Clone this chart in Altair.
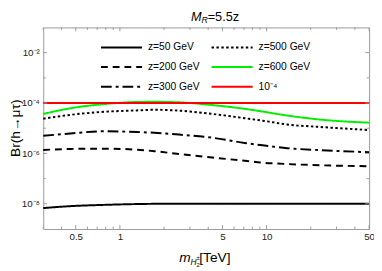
import altair as alt
import pandas as pd

# ---- data ----
x_vals = [0.3, 0.46, 0.78, 1.3, 1.72, 2.53, 4.27, 7.1, 9.4, 13.8, 23.4, 50]
br_z50 = [6.8e-9, 8.1e-9, 9.1e-9, 9.8e-9, 1.0e-8, 1.0e-8, 1.0e-8, 1.0e-8, 1.0e-8, 1.0e-8, 1.0e-8, 1.0e-8]
br_z200 = [1.38e-6, 1.51e-6, 1.55e-6, 1.41e-6, 1.23e-6, 9.5e-7, 6.9e-7, 5.1e-7, 4.3e-7, 3.8e-7, 3.4e-7, 3.1e-7]
br_z300 = [5.0e-6, 6.2e-6, 7.6e-6, 7.1e-6, 6.6e-6, 5.6e-6, 4.2e-6, 2.6e-6, 2.1e-6, 1.62e-6, 1.35e-6, 1.12e-6]
br_z500 = [2.4e-5, 3.4e-5, 4.5e-5, 5.1e-5, 5.4e-5, 5.0e-5, 3.7e-5, 2.5e-5, 2.0e-5, 1.41e-5, 1.12e-5, 8.5e-6]
br_z600 = [3.7e-5, 6.2e-5, 9.1e-5, 1.10e-4, 1.12e-4, 1.07e-4, 8.3e-5, 5.9e-5, 4.6e-5, 3.2e-5, 2.2e-5, 1.66e-5]
br_limit = [1e-4] * 12

series_names = ["z=50 GeV", "z=200 GeV", "z=300 GeV", "z=500 GeV", "z=600 GeV", "10\u207b\u2074"]
series_values = [br_z50, br_z200, br_z300, br_z500, br_z600, br_limit]
series_colors = ["black", "black", "black", "black", "#00ee00", "#ff0000"]
series_dashes = [[1, 0], [7, 5], [11, 4, 3, 4], [2.5, 2.5], [1, 0], [1, 0]]

x_major = [0.5, 1, 5, 10, 50]
x_minor = [0.3, 0.4, 0.6, 0.7, 0.8, 0.9, 2, 3, 4, 6, 7, 8, 9, 20, 30, 40]
y_major = [1e-2, 1e-4, 1e-6, 1e-8]
y_minor = [1e-3, 1e-5, 1e-7]
y_labels = ["10\u207b\u00b2", "10\u207b\u2074", "10\u207b\u2076", "10\u207b\u2078"]

W, H = 333, 206
FONT = "Liberation Sans"
FRAME = "#999999"

rows = []
for name, vals in zip(series_names, series_values):
    for xv, yv in zip(x_vals, vals):
        rows.append({"m": xv, "br": yv, "series": name})
df = pd.DataFrame(rows)

xscale = alt.Scale(type="log", domain=[0.3, 50], nice=False)
yscale = alt.Scale(type="log", domain=[1e-9, 1e-1], nice=False)

label_map = "{" + ",".join(
    "'%d':'%s'" % (e, l) for e, l in zip([-2, -4, -6, -8], y_labels)
) + "}"

x_axis = alt.Axis(values=x_major, format="~g", title=None, domain=False,
                  ticks=False, grid=False, labelFont=FONT, labelFontSize=10,
                  labelPadding=3, labelColor="#222", labelFlush=False)
y_axis = alt.Axis(values=y_major, title=None, domain=False, ticks=False,
                  grid=False, labelFont=FONT, labelFontSize=10, labelPadding=4,
                  labelColor="#222", labelFlush=False,
                  labelExpr=label_map + "[''+round(log(datum.value)/LN10)]")

lines = alt.Chart(df).mark_line(strokeWidth=2, interpolate="monotone").encode(
    x=alt.X("m:Q", scale=xscale, axis=x_axis),
    y=alt.Y("br:Q", scale=yscale, axis=y_axis),
    color=alt.Color("series:N", scale=alt.Scale(domain=series_names, range=series_colors),
                    legend=None),
    strokeDash=alt.StrokeDash("series:N",
                              scale=alt.Scale(domain=series_names, range=series_dashes),
                              legend=None),
    detail="series:N",
)

red_top = alt.Chart(df).transform_filter(
    alt.datum.series == series_names[-1]
).mark_line(strokeWidth=2.2, color="#ff0000").encode(
    x=alt.X("m:Q", scale=xscale, axis=x_axis),
    y=alt.Y("br:Q", scale=yscale, axis=y_axis),
)


def xticks(vals, length, top):
    d = pd.DataFrame({"m": vals})
    y0 = 0 if top else H
    y1 = length if top else H - length
    return alt.Chart(d).mark_rule(color=FRAME, strokeWidth=1).encode(
        x=alt.X("m:Q", scale=xscale, axis=x_axis), y=alt.value(y0), y2=alt.value(y1))


def yticks(vals, length, right):
    d = pd.DataFrame({"br": vals})
    x0 = W if right else 0
    x1 = W - length if right else length
    return alt.Chart(d).mark_rule(color=FRAME, strokeWidth=1).encode(
        y=alt.Y("br:Q", scale=yscale, axis=y_axis), x=alt.value(x0), x2=alt.value(x1))


dummy = pd.DataFrame({"a": [0]})


def label(text, x, y, size, italic=False, align="left", angle=0, baseline="alphabetic"):
    return alt.Chart(dummy).mark_text(
        text=text, font=FONT, fontSize=size, fontStyle="italic" if italic else "normal",
        align=align, baseline=baseline, angle=angle, color="black",
    ).encode(x=alt.value(x), y=alt.value(y))


# legend (two columns, three rows)
legend_layers = []
for i, (name, col, dash) in enumerate(zip(series_names, series_colors, series_dashes)):
    c, r = divmod(i, 3)
    x0 = 59 + 113 * c
    yy = 20.5 + 20 * r
    legend_layers.append(
        alt.Chart(dummy).mark_rule(strokeWidth=2, color=col, strokeDash=dash).encode(
            x=alt.value(x0), x2=alt.value(x0 + 42), y=alt.value(yy)))
    legend_layers.append(label(name, x0 + 48, yy, 10.5, baseline="middle"))

texts = [
    label("M", 151, -7, 13, italic=True),
    label("R", 161.8, -4.5, 9, italic=True),
    label("=5.5z", 168, -7, 13),
    label("m", 139, 240, 14, italic=True),
    label("H", 150.5, 242.5, 8.5, italic=True),
    label("2", 156.5, 244.5, 6),
    label("\u00b1", 156.5, 237.5, 6),
    label("[TeV]", 159.5, 240, 14),
    label("Br(h\u2192\u03bc\u03c4)", -28, H / 2, 14, align="center", angle=270, baseline="middle"),
]

layers = [lines, red_top,
          xticks(x_major, 4, False), xticks(x_minor, 2.5, False),
          xticks(x_major, 4, True), xticks(x_minor, 2.5, True),
          yticks(y_major, 4, False), yticks(y_minor, 2.5, False),
          yticks(y_major, 4, True), yticks(y_minor, 2.5, True)] + legend_layers + texts

chart = alt.layer(*layers).properties(
    width=W, height=H,
    autosize=alt.AutoSizeParams(type="none"),
    padding={"left": 36, "top": 17, "right": 5, "bottom": 40},
).configure_view(stroke=FRAME, strokeWidth=1)

chart.save("out.html", embed_options={"renderer": "svg", "actions": False})
